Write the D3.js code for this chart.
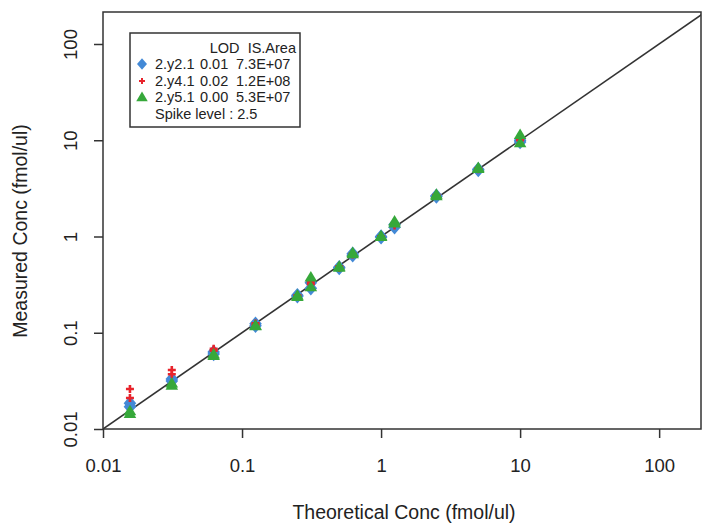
<!DOCTYPE html>
<html>
<head>
<meta charset="utf-8">
<script src="https://cdn.jsdelivr.net/npm/d3@7"></script>
<style>
  html, body { margin: 0; padding: 0; background: #fff; }
  svg { display: block; }
  text { font-family: "Liberation Sans", Arial, sans-serif; fill: #222; }
</style>
</head>
<body>
<svg id="chart" width="704" height="523"></svg>
<script>
// Theoretical spike concentrations (fmol/ul), two replicate injections per level
const theoretical = [
  0.015625, 0.015625, 0.03125, 0.03125, 0.0625, 0.0625, 0.125, 0.125,
  0.25, 0.25, 0.3125, 0.3125, 0.5, 0.5, 0.625, 0.625,
  1, 1, 1.25, 1.25, 2.5, 2.5, 5, 5, 10, 10
];

// Measured concentrations for each transition
const y2_1 = [
  0.0185, 0.0170, 0.0330, 0.0315, 0.063, 0.060, 0.124, 0.118,
  0.245, 0.240, 0.29, 0.33, 0.48, 0.47, 0.66, 0.64,
  1.00, 0.98, 1.25, 1.33, 2.65, 2.60, 5.0, 4.9, 10.0, 9.6
];
const y4_1 = [
  0.026, 0.021, 0.041, 0.037, 0.068, 0.065, 0.125, 0.121,
  0.245, 0.238, 0.32, 0.34, 0.49, 0.47, 0.66, 0.65,
  1.00, 0.99, 1.30, 1.35, 2.70, 2.65, 5.1, 5.0, 10.3, 10.0
];
const y5_1 = [
  0.0145, 0.0155, 0.0285, 0.0300, 0.058, 0.060, 0.120, 0.118,
  0.238, 0.245, 0.38, 0.30, 0.48, 0.49, 0.68, 0.66,
  1.00, 1.02, 1.45, 1.38, 2.75, 2.65, 5.2, 5.1, 11.5, 9.4
];

// Legend rows: name, LOD, IS area
const seriesNames = ["2.y2.1", "2.y4.1", "2.y5.1"];
const seriesLOD = ["0.01", "0.02", "0.00"];
const seriesArea = ["7.3E+07", "1.2E+08", "5.3E+07"];
const spikeLevel = "Spike level : 2.5";

const tickValues = [0.01, 0.1, 1, 10, 100];
const tickLabels = ["0.01", "0.1", "1", "10", "100"];

const svg = d3.select("#chart");

const plot = { left: 103, right: 701, top: 12, bottom: 429 };

const x = d3.scaleLog().domain([0.01, 200]).range([plot.left, plot.right]);
const y = d3.scaleLog().domain([0.01, 215]).range([plot.bottom, plot.top]);

const colors = { blue: "#4389d6", red: "#e8232b", green: "#36a83a" };

// Marker shapes (R-like: filled diamond, plus, filled triangle)
const diamond = (r) => `M0,${-r * 1.15}L${r},0L0,${r * 1.15}L${-r},0Z`;
const triangle = (r) => `M0,${-r}L${r * 1.05},${r * 0.75}L${-r * 1.05},${r * 0.75}Z`;
const cross = (r) => `M${-r},0H${r}M0,${-r}V${r}`;

svg.append("clipPath").attr("id", "clip")
  .append("rect")
  .attr("x", plot.left).attr("y", plot.top)
  .attr("width", plot.right - plot.left).attr("height", plot.bottom - plot.top);

// Identity line y = x
svg.append("line")
  .attr("clip-path", "url(#clip)")
  .attr("x1", x(0.01)).attr("y1", y(0.01))
  .attr("x2", x(215)).attr("y2", y(215))
  .attr("stroke", "#333").attr("stroke-width", 1.6);

const pts = svg.append("g").attr("clip-path", "url(#clip)");

// Blue diamonds
pts.selectAll("path.s1").data(theoretical.map((t, i) => [t, y2_1[i]]))
  .join("path").attr("class", "s1")
  .attr("transform", d => `translate(${x(d[0])},${y(d[1])})`)
  .attr("d", diamond(6.3)).attr("fill", colors.blue);

// Red crosses
pts.selectAll("path.s2").data(theoretical.map((t, i) => [t, y4_1[i]]))
  .join("path").attr("class", "s2")
  .attr("transform", d => `translate(${x(d[0])},${y(d[1])})`)
  .attr("d", cross(4)).attr("stroke", colors.red).attr("stroke-width", 2.6).attr("fill", "none");

// Green triangles
pts.selectAll("path.s3").data(theoretical.map((t, i) => [t, y5_1[i]]))
  .join("path").attr("class", "s3")
  .attr("transform", d => `translate(${x(d[0])},${y(d[1])})`)
  .attr("d", triangle(6)).attr("fill", colors.green);

// Axes
const fmt = d => tickLabels[tickValues.indexOf(d)];

const xAxis = svg.append("g")
  .attr("transform", `translate(0,${plot.bottom})`)
  .call(d3.axisBottom(x).tickValues(tickValues).tickFormat(fmt).tickSize(9).tickPadding(0));
xAxis.select(".domain").remove();
xAxis.selectAll(".tick line").attr("stroke", "#333").attr("stroke-width", 1.5);
xAxis.selectAll(".tick text")
  .attr("y", 43).attr("dy", 0)
  .style("font-size", "18.5px")
  .style("font-family", "'Liberation Sans', Arial, sans-serif")
  .attr("fill", "#222");

const yAxis = svg.append("g")
  .attr("transform", `translate(${plot.left},0)`)
  .call(d3.axisLeft(y).tickValues(tickValues).tickFormat(fmt).tickSize(9).tickPadding(0));
yAxis.select(".domain").remove();
yAxis.selectAll(".tick line").attr("stroke", "#333").attr("stroke-width", 1.5);
yAxis.selectAll(".tick text")
  .attr("x", 0).attr("dy", 0)
  .attr("text-anchor", "middle")
  .attr("transform", "translate(-26,0) rotate(-90)")
  .style("font-size", "18.5px")
  .style("font-family", "'Liberation Sans', Arial, sans-serif")
  .attr("fill", "#222");

// Plot frame
svg.append("rect")
  .attr("x", plot.left).attr("y", plot.top)
  .attr("width", plot.right - plot.left).attr("height", plot.bottom - plot.top)
  .attr("fill", "none").attr("stroke", "#333").attr("stroke-width", 1.5);

// Axis titles
svg.append("text")
  .attr("x", 404).attr("y", 519)
  .attr("text-anchor", "middle")
  .style("font-size", "19.5px")
  .text("Theoretical Conc (fmol/ul)");

svg.append("text")
  .attr("transform", "translate(27,231) rotate(-90)")
  .attr("text-anchor", "middle")
  .style("font-size", "19.5px")
  .text("Measured Conc (fmol/ul)");

// Legend
const lg = svg.append("g");
lg.append("rect")
  .attr("x", 130).attr("y", 33).attr("width", 170).attr("height", 94)
  .attr("fill", "#fff").attr("stroke", "#333").attr("stroke-width", 1.5);

lg.append("text").attr("x", 296).attr("y", 53).attr("text-anchor", "end")
  .style("font-size", "14.5px").attr("xml:space", "preserve").text("LOD  IS.Area");

const rowY = [69, 86, 102];
const legendShapes = [
  g => g.append("path").attr("d", diamond(5)).attr("fill", colors.blue),
  g => g.append("path").attr("d", cross(3)).attr("stroke", colors.red).attr("stroke-width", 2).attr("fill", "none"),
  g => g.append("path").attr("d", triangle(5.5)).attr("fill", colors.green)
];
seriesNames.forEach((name, i) => {
  const sym = lg.append("g").attr("transform", `translate(142,${rowY[i] - 5})`);
  legendShapes[i](sym);
  lg.append("text").attr("x", 155).attr("y", rowY[i]).style("font-size", "14.5px").text(name);
  lg.append("text").attr("x", 200).attr("y", rowY[i]).style("font-size", "14.5px").text(seriesLOD[i]);
  lg.append("text").attr("x", 236).attr("y", rowY[i]).style("font-size", "14.5px").text(seriesArea[i]);
});
lg.append("text").attr("x", 155).attr("y", 119).style("font-size", "14.5px").text(spikeLevel);
</script>
</body>
</html>
